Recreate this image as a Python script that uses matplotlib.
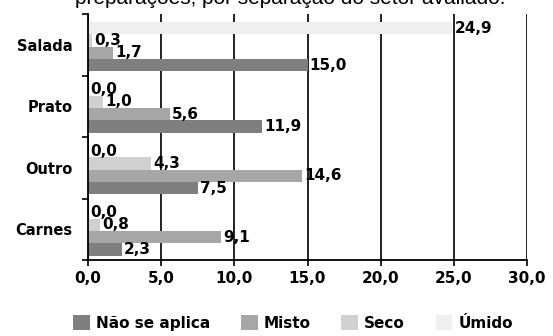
import numpy as np
import matplotlib
matplotlib.use("Agg")
import matplotlib.pyplot as plt
from matplotlib.patches import Patch

# data
categorias = ['Salada', 'Prato', 'Outro', 'Carnes']
series = ['Não se aplica', 'Misto', 'Seco', 'Úmido']
nao_se_aplica = [15.0, 11.9, 7.5, 2.3]
misto = [1.7, 5.6, 14.6, 9.1]
seco = [0.3, 1.0, 4.3, 0.8]
umido = [24.9, 0.0, 0.0, 0.0]
cores = ['#7f7f7f', '#a6a6a6', '#d0d0d0', '#efefef']
xticks = [0, 5, 10, 15, 20, 25, 30]

fig = plt.figure(figsize=(5.53, 3.36), dpi=100)
ax = fig.add_axes([88/553, 1-260/336, (527-88)/553, (260-14)/336])

y = np.arange(len(categorias))
w = 0.2
valores = [nao_se_aplica, misto, seco, umido]
offsets = [1.5*w, 0.5*w, -0.5*w, -1.5*w]

for vals, off, cor in zip(valores, offsets, cores):
    bars = ax.barh(y + off + 0.03, vals, height=w, color=cor, zorder=2)
    for b, v in zip(bars, vals):
        ax.text(v + 0.15, b.get_y() + b.get_height()/2, ('%.1f' % v).replace('.', ','),
                ha='left', va='center', fontsize=11, fontweight='bold', zorder=3)

ax.set_xlim(0, 30)
ax.set_ylim(len(categorias) - 0.5, -0.5)
ax.set_xticks(xticks)
ax.set_xticklabels([('%.1f' % t).replace('.', ',') for t in xticks],
                   fontsize=11, fontweight='bold')
ax.set_yticks(y)
ax.set_yticklabels(categorias, fontsize=10.5, fontweight='bold')
ax.set_yticks(np.arange(-0.5, len(categorias)), minor=True)
ax.tick_params(axis='y', which='major', length=0, pad=11)
ax.tick_params(axis='y', which='minor', length=4, width=1.2, direction='out')
ax.tick_params(axis='x', length=4, width=1.2, direction='out', pad=4)

ax.grid(axis='x', color='#111111', linewidth=1.3, zorder=1)
ax.set_axisbelow(True)
ax.spines['top'].set_visible(False)
ax.spines['right'].set_visible(False)
ax.spines['left'].set_linewidth(1.3)
ax.spines['bottom'].set_linewidth(1.3)

handles = [Patch(facecolor=c, edgecolor='none') for c in cores]
fig.legend(handles, series, loc='center', bbox_to_anchor=(0.53, 1-323/336), ncol=4,
           frameon=False, handlelength=1.1, handleheight=1.1, handletextpad=0.4,
           columnspacing=2.0, prop={'size': 11, 'weight': 'bold'})

# titulo cortado no topo da imagem
fig.text(0.525, 1-4/336, 'preparações, por separação do setor avaliado.', ha='center',
         va='baseline', fontsize=15, family='Liberation Sans')

fig.savefig('out.png', dpi=100)
